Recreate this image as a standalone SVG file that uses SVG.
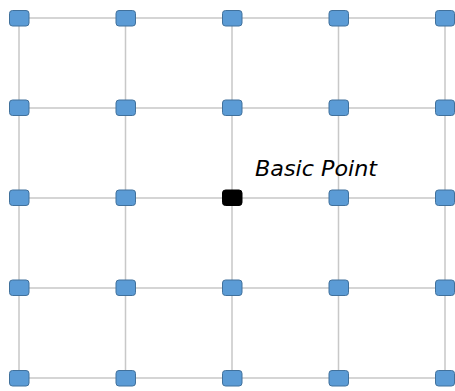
<svg xmlns="http://www.w3.org/2000/svg" width="455" height="391" viewBox="0 0 455 391">
<style>
.e{stroke:#c8c8c8;stroke-width:1.5;fill:none}
.n{fill:#5b9bd5;stroke:#41719c;stroke-width:1}
.b{fill:#000;stroke:#000;stroke-width:1}
.t{font-family:"DejaVu Sans",sans-serif;font-style:italic;font-size:21.5px;fill:#000}
</style>
<rect width="455" height="391" fill="#fff"/>
<g id="connectors">
<path class="e" d="M19,18H445M19,108H445M19,198H445M19,288H445M19,378H445M19,18V378M125.5,18V378M232,18V378M338.5,18V378M445,18V378"/>
</g>
<g id="n00"><rect class="n" x="9.5" y="10.5" width="19.5" height="15.5" rx="3"/></g>
<g id="n01"><rect class="n" x="116" y="10.5" width="19.5" height="15.5" rx="3"/></g>
<g id="n02"><rect class="n" x="222.5" y="10.5" width="19.5" height="15.5" rx="3"/></g>
<g id="n03"><rect class="n" x="329" y="10.5" width="19.5" height="15.5" rx="3"/></g>
<g id="n04"><rect class="n" x="435.5" y="10.5" width="19" height="15.5" rx="3"/></g>
<g id="n10"><rect class="n" x="9.5" y="100" width="19.5" height="15.5" rx="3"/></g>
<g id="n11"><rect class="n" x="116" y="100" width="19.5" height="15.5" rx="3"/></g>
<g id="n12"><rect class="n" x="222.5" y="100" width="19.5" height="15.5" rx="3"/></g>
<g id="n13"><rect class="n" x="329" y="100" width="19.5" height="15.5" rx="3"/></g>
<g id="n14"><rect class="n" x="435.5" y="100" width="19" height="15.5" rx="3"/></g>
<g id="n20"><rect class="n" x="9.5" y="190" width="19.5" height="15.5" rx="3"/></g>
<g id="n21"><rect class="n" x="116" y="190" width="19.5" height="15.5" rx="3"/></g>
<g id="basic"><rect class="b" x="222.5" y="190" width="19.5" height="15.5" rx="3"/><text class="t" x="255" y="176" textLength="122" lengthAdjust="spacingAndGlyphs">Basic Point</text></g>
<g id="n23"><rect class="n" x="329" y="190" width="19.5" height="15.5" rx="3"/></g>
<g id="n24"><rect class="n" x="435.5" y="190" width="19" height="15.5" rx="3"/></g>
<g id="n30"><rect class="n" x="9.5" y="280" width="19.5" height="15.5" rx="3"/></g>
<g id="n31"><rect class="n" x="116" y="280" width="19.5" height="15.5" rx="3"/></g>
<g id="n32"><rect class="n" x="222.5" y="280" width="19.5" height="15.5" rx="3"/></g>
<g id="n33"><rect class="n" x="329" y="280" width="19.5" height="15.5" rx="3"/></g>
<g id="n34"><rect class="n" x="435.5" y="280" width="19" height="15.5" rx="3"/></g>
<g id="n40"><rect class="n" x="9.5" y="370.5" width="19.5" height="15.5" rx="3"/></g>
<g id="n41"><rect class="n" x="116" y="370.5" width="19.5" height="15.5" rx="3"/></g>
<g id="n42"><rect class="n" x="222.5" y="370.5" width="19.5" height="15.5" rx="3"/></g>
<g id="n43"><rect class="n" x="329" y="370.5" width="19.5" height="15.5" rx="3"/></g>
<g id="n44"><rect class="n" x="435.5" y="370.5" width="19" height="15.5" rx="3"/></g>
</svg>
